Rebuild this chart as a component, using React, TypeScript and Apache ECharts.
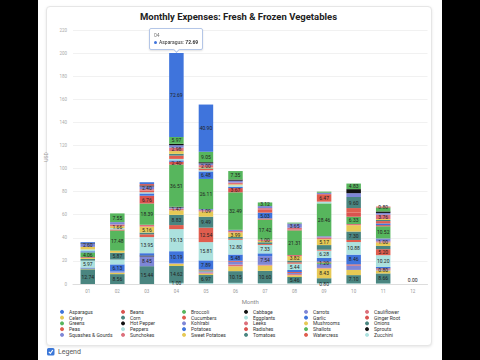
import { useEffect, useRef } from 'react';
import * as echarts from 'echarts';

const months = ['01', '02', '03', '04', '05', '06', '07', '08', '09', '10', '11', '12'];

const vegetables = [
  'Asparagus', 'Beans', 'Broccoli', 'Cabbage', 'Carrots', 'Cauliflower',
  'Celery', 'Corn', 'Cucumbers', 'Eggplants', 'Garlic', 'Ginger Root',
  'Greens', 'Hot Pepper', 'Kohlrabi', 'Leeks', 'Mushrooms', 'Onions',
  'Peas', 'Peppers', 'Potatoes', 'Radishes', 'Shallots', 'Sprouts',
  'Squashes & Gourds', 'Sunchokes', 'Sweet Potatoes', 'Tomatoes', 'Watercress', 'Zucchini',
];

const palette = ['#3f74dc', '#d9534f', '#57b65d', '#111111', '#7e86d6', '#dc6f7b', '#e6c955', '#4a8580', '#e05d4e', '#ace1de'];

const asparagus = [0.98, 0, 1.59, 72.69, 40.9, 0, 0, 0, 0, 0, 0, 0];
const beans = [0, 0, 1.2, 0, 0, 0, 0, 0, 0, 0, 0.8, 0];
const broccoli = [0, 7.55, 0, 5.97, 9.05, 7.35, 3.12, 0.8, 1.0, 4.83, 3.39, 0];
const cabbage = [0.5, 0, 0.8, 1.2, 1.0, 1.0, 0, 0, 0, 3.5, 1.3, 0];
const carrots = [2.6, 2.0, 2.4, 2.1, 1.5, 1.6, 1.8, 3.65, 1.2, 3.3, 1.5, 0];
const cauliflower = [0, 1.5, 1.2, 2.98, 2.0, 1.5, 1.5, 1.5, 0, 0, 3.76, 0];
const celery = [2.2, 1.66, 0, 2.4, 0.8, 0.8, 0, 0, 0, 0, 0.8, 0];
const corn = [0, 0, 0, 1.5, 0.5, 0, 0, 0, 0, 9.6, 1.0, 0];
const cucumbers = [0, 0, 1.5, 2.88, 1.2, 0, 2.4, 0, 6.47, 4.0, 2.0, 0];
const eggplants = [1.6, 1.2, 1.0, 1.3, 1.0, 1.5, 0, 0, 1.5, 0, 0, 0];
const garlic = [1.0, 0, 2.0, 1.2, 6.48, 1.0, 5.03, 0, 0, 0, 1.5, 0];
const gingerRoot = [0, 0.9, 6.76, 2.4, 0, 3.67, 1.0, 0.8, 0, 3.5, 1.0, 0];
const greens = [4.06, 17.48, 18.39, 36.51, 26.11, 32.49, 17.42, 21.31, 28.46, 6.33, 10.52, 0];
const hotPepper = [0, 0, 0, 0.6, 0, 0, 0, 0, 0, 0, 0, 0];
const kohlrabi = [0, 0, 0, 1.0, 1.0, 1.0, 0, 0, 1.0, 0, 2.5, 0];
const leeks = [0.8, 0, 1.6, 1.47, 1.09, 1.2, 1.0, 1.0, 1.5, 1.0, 1.0, 0];
const mushrooms = [0.8, 1.8, 5.16, 4.0, 4.5, 3.99, 1.2, 3.82, 5.17, 5.5, 3.0, 0];
const onions = [1.5, 5.87, 1.5, 8.83, 9.49, 1.5, 1.5, 1.5, 4.0, 7.3, 2.81, 0];
const peas = [0, 0, 2.4, 3.5, 12.54, 0.9, 0.8, 1.2, 0.8, 1.8, 5.2, 0];
const peppers = [5.97, 4.2, 13.95, 19.13, 15.81, 12.8, 7.33, 5.44, 6.28, 10.88, 10.2, 0];
const potatoes = [0.9, 6.13, 2.0, 10.19, 7.89, 5.48, 2.4, 1.8, 3.2, 8.46, 1.2, 0];
const radishes = [0, 0, 0, 0, 0.8, 0.8, 0, 0.8, 0.8, 1.0, 1.0, 0];
const shallots = [0, 0, 0, 0, 0.8, 0, 0, 0, 1.2, 0, 0, 0];
const sprouts = [0, 0, 0.8, 0, 0, 0, 0, 0, 0, 0, 0, 0];
const squashes = [0, 1.0, 8.45, 0.6, 1.0, 2.4, 7.54, 1.0, 3.5, 3.8, 0.8, 0];
const sunchokes = [0, 0, 0, 0, 1.0, 1.5, 0.6, 1.0, 0.5, 0, 0, 0];
const sweetPotatoes = [0.6, 1.3, 0, 2.0, 1.2, 4.2, 4.6, 1.5, 8.43, 4.5, 2.6, 0];
const tomatoes = [12.74, 8.56, 15.44, 14.62, 6.97, 10.15, 10.6, 5.46, 4.2, 7.1, 8.66, 0];
const watercress = [0, 0, 0, 0, 0, 0, 0, 0, 0, 0, 0, 0];
const zucchini = [0, 0, 0, 1.0, 0.8, 1.0, 0.8, 0.6, 0.8, 0.6, 0.5, 0];

const seriesValues = [
  asparagus, beans, broccoli, cabbage, carrots, cauliflower,
  celery, corn, cucumbers, eggplants, garlic, gingerRoot,
  greens, hotPepper, kohlrabi, leeks, mushrooms, onions,
  peas, peppers, potatoes, radishes, shallots, sprouts,
  squashes, sunchokes, sweetPotatoes, tomatoes, watercress, zucchini,
];

const yTicks = { min: 0, max: 220, interval: 20 };

export default function App() {
  const ref = useRef<HTMLDivElement>(null);

  useEffect(() => {
    if (!ref.current) return;
    const chart = echarts.init(ref.current, null, { renderer: 'svg' });

    const series = vegetables
      .map((name, i) => ({
        name,
        type: 'bar',
        stack: 'total',
        barWidth: 14.5,
        itemStyle: { color: palette[i % palette.length] },
        label: {
          show: true,
          position: 'inside',
          fontSize: 5,
          lineHeight: 8.5,
          color: '#222',
          fontFamily: 'Roboto',
          formatter: (p: any) =>
            p.value > 0 || (p.dataIndex === 11 && p.seriesName === 'Zucchini')
              ? Number(p.value).toFixed(2)
              : '',
        },
        labelLayout: { hideOverlap: true },
        data: seriesValues[i].map((v, j) =>
          j === 11 && name === 'Zucchini'
            ? { value: v, label: { position: 'top', distance: 0 } }
            : v
        ),
      }))
      .reverse();

    const columns = 6;
    const colX = [60, 121, 182, 244, 304, 365];
    const legends = colX.map((x, c) => ({
      orient: 'vertical',
      left: x,
      top: 309,
      padding: 0,
      itemGap: 0,
      itemWidth: 4,
      itemHeight: 4,
      icon: 'circle',
      textStyle: { fontSize: 5, color: '#333', fontFamily: 'Roboto', lineHeight: 5.75 },
      data: vegetables.filter((_, i) => i % columns === c),
    }));

    chart.setOption({
      animation: false,
      title: {
        text: 'Monthly Expenses: Fresh & Frozen Vegetables',
        left: 238.5,
        top: 11,
        padding: 0,
        textAlign: 'center',
        textStyle: { fontSize: 9.5, fontWeight: 'bold', color: '#222', fontFamily: 'Roboto' },
      },
      grid: { left: 73, right: 52.5, top: 30, bottom: 76 },
      tooltip: {
        trigger: 'item',
        alwaysShowContent: true,
        transitionDuration: 0,
        showDelay: 0,
        backgroundColor: '#fff',
        borderColor: '#b4c6e7',
        borderWidth: 1,
        padding: [3, 4],
        extraCssText: 'box-shadow:0 1px 2px rgba(0,0,0,0.12);border-radius:2px;',
        position: (point: any, params: any, dom: any, rect: any, size: any) => {
          if (!rect) return [point[0], point[1]];
          return [rect.x + rect.width / 2 - size.contentSize[0] / 2, rect.y - size.contentSize[1] - 3];
        },
        formatter: (p: any) =>
          `<div style="font-family:Roboto;font-size:5px;line-height:7px;color:#777">${p.name}</div>` +
          `<div style="font-family:Roboto;font-size:5px;line-height:7px;color:#333">` +
          `<span style="display:inline-block;width:3px;height:3px;border-radius:50%;background:${p.color};margin-right:2px;vertical-align:middle"></span>` +
          `${p.seriesName}: <b>${Number(p.value).toFixed(2)}</b></div>` +
          `<div style="position:absolute;left:50%;bottom:-3px;width:4px;height:4px;margin-left:-2px;background:#fff;border-right:1px solid #b4c6e7;border-bottom:1px solid #b4c6e7;transform:rotate(45deg)"></div>`,
      },
      legend: legends,
      xAxis: {
        type: 'category',
        data: months,
        name: 'Month',
        nameLocation: 'middle',
        nameGap: 11,
        nameTextStyle: { fontSize: 6, color: '#888', fontFamily: 'Roboto' },
        axisLine: { lineStyle: { color: '#ddd' } },
        axisTick: { show: false },
        axisLabel: { fontSize: 4.5, color: '#999', margin: 5, fontFamily: 'Roboto' },
      },
      yAxis: {
        type: 'value',
        min: yTicks.min,
        max: yTicks.max,
        interval: yTicks.interval,
        name: 'USD',
        nameLocation: 'middle',
        nameGap: 19,
        nameTextStyle: { fontSize: 5, color: '#999', fontFamily: 'Roboto' },
        axisLine: { show: false },
        axisTick: { show: false },
        axisLabel: { fontSize: 4.5, color: '#aaa', margin: 6, fontFamily: 'Roboto' },
        splitLine: { lineStyle: { color: '#eeeeee', width: 0.8 } },
      },
      graphic: [
        { type: 'rect', shape: { x: 47, y: 348, width: 7.5, height: 7.5, r: 1.5 }, style: { fill: '#3c78d8' } },
        {
          type: 'polyline',
          shape: { points: [[48.8, 351.8], [50.4, 353.4], [52.8, 350]] },
          style: { stroke: '#fff', lineWidth: 1.1, fill: 'none' },
        },
        {
          type: 'text',
          x: 58,
          y: 352,
          style: { text: 'Legend', fontSize: 7, fill: '#555', fontFamily: 'Roboto', verticalAlign: 'middle' },
        },
      ],
      series,
    });

    const aspIndex = series.findIndex((s) => s.name === 'Asparagus');
    chart.dispatchAction({ type: 'showTip', seriesIndex: aspIndex, dataIndex: 3 });

    return () => chart.dispose();
  }, []);

  return (
    <div style={{ position: 'fixed', left: 0, top: 0, width: 480, height: 360, background: '#000', overflow: 'hidden' }}>
      <div style={{ position: 'absolute', left: 38, top: 0, width: 404, height: 360, background: '#fff' }} />
      <div
        style={{
          position: 'absolute',
          left: 46,
          top: 6,
          width: 384,
          height: 338,
          border: '1px solid #e6e6e6',
          borderRadius: 4,
          boxShadow: '0 1px 3px rgba(0,0,0,0.10)',
          background: '#fff',
        }}
      />
      <div ref={ref} style={{ position: 'absolute', left: 0, top: 0, width: 480, height: 360 }} />
    </div>
  );
}
